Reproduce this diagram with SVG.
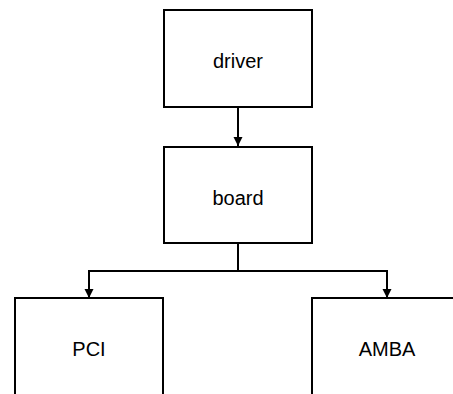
<svg xmlns="http://www.w3.org/2000/svg" width="453" height="394" viewBox="0 0 453 394">
  <defs>
    <style>
      .box { fill: #ffffff; stroke: #000000; stroke-width: 2; }
      .label { font-family: "Liberation Sans", Arial, sans-serif; font-size: 20px; fill: #000000; text-anchor: middle; }
      .wire { fill: none; stroke: #000000; stroke-width: 2; }
    </style>
    <marker id="arrow" viewBox="0 0 10 10" refX="10" refY="5" markerWidth="9" markerHeight="11" markerUnits="userSpaceOnUse" orient="auto">
      <path d="M0,0 L10,5 L0,10 Z" fill="#000000"/>
    </marker>
  </defs>
  <rect width="453" height="394" fill="#ffffff"/>

  <g id="connectors">
    <path class="wire" d="M238,107 V146" marker-end="url(#arrow)"/>
    <path class="wire" d="M238,243 V271"/>
    <path class="wire" d="M238,271 H89 V298" marker-end="url(#arrow)"/>
    <path class="wire" d="M238,271 H387 V298" marker-end="url(#arrow)"/>
  </g>

  <g id="driver">
    <rect class="box" x="164" y="10" width="148" height="97"/>
    <text class="label" x="238" y="68">driver</text>
  </g>

  <g id="board">
    <rect class="box" x="164" y="147" width="148" height="96"/>
    <text class="label" x="238" y="205">board</text>
  </g>

  <g id="pci">
    <rect class="box" x="15" y="298" width="148" height="110"/>
    <text class="label" x="89" y="356">PCI</text>
  </g>

  <g id="amba">
    <rect class="box" x="312" y="298" width="150" height="110"/>
    <text class="label" x="387" y="356">AMBA</text>
  </g>
</svg>
